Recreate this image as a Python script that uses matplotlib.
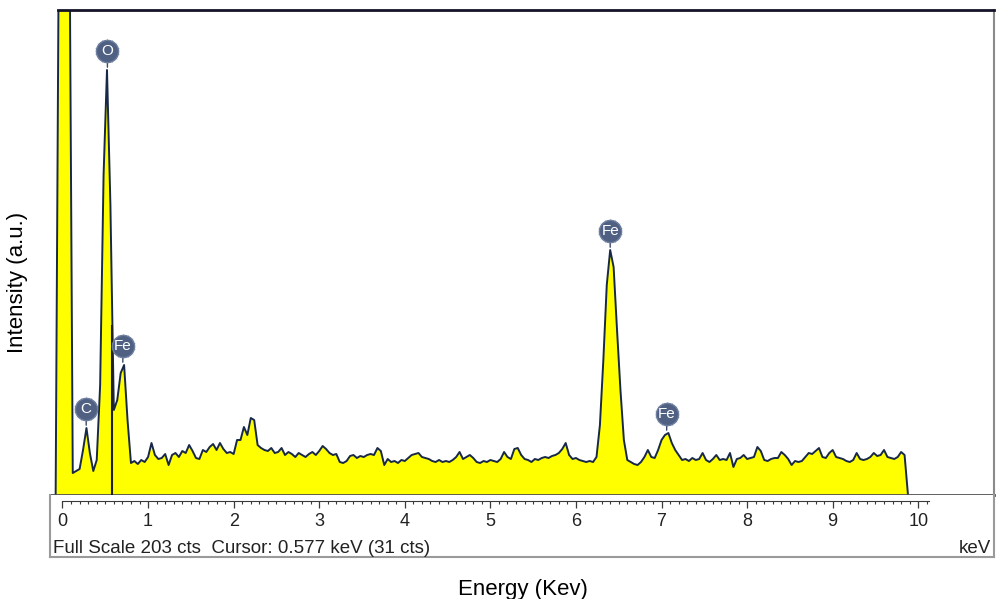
import numpy as np
import matplotlib
matplotlib.use("Agg")
import matplotlib.pyplot as plt
import matplotlib.transforms as mtransforms

# EDS spectrum, 0.04 keV channels from -0.08 keV
energies = np.round(np.arange(250) * 0.04 - 0.08, 2)
counts = [
    0, 600, 600, 600, 600, 22, 24, 26, 45, 67,
    42, 24, 35, 110, 320, 425, 290, 85, 95, 122,
    130, 75, 32, 34, 31, 35, 33, 38, 52, 40,
    36, 37, 41, 30, 40, 42, 38, 44, 42, 50,
    44, 37, 36, 45, 43, 48, 51, 45, 52, 46,
    42, 43, 41, 55, 55, 68, 60, 77, 75, 50,
    47, 45, 44, 47, 42, 43, 47, 40, 43, 41,
    38, 42, 40, 38, 41, 43, 40, 44, 49, 46,
    42, 40, 41, 33, 32, 34, 39, 40, 37, 39,
    38, 40, 41, 40, 47, 44, 30, 36, 33, 34,
    32, 35, 34, 37, 40, 41, 42, 38, 37, 36,
    34, 33, 35, 33, 34, 33, 35, 38, 43, 36,
    38, 40, 37, 33, 32, 34, 33, 35, 34, 33,
    36, 43, 38, 36, 46, 47, 40, 36, 35, 33,
    36, 35, 37, 38, 37, 39, 40, 42, 46, 52,
    40, 36, 37, 35, 34, 33, 34, 33, 38, 70,
    135, 210, 245, 228, 165, 105, 55, 35, 33, 31,
    30, 33, 38, 45, 38, 37, 45, 55, 60, 62,
    52, 45, 40, 35, 36, 34, 37, 35, 36, 42,
    35, 33, 36, 40, 35, 36, 35, 42, 28, 36,
    37, 40, 36, 37, 38, 48, 44, 35, 34, 36,
    37, 37, 43, 40, 36, 30, 34, 33, 34, 38,
    42, 41, 44, 47, 38, 37, 42, 45, 38, 37,
    36, 34, 33, 35, 42, 36, 35, 36, 38, 42,
    39, 40, 45, 38, 37, 36, 38, 43, 40, 0,
]
counts = np.array(counts)

peak_names = ["C", "O", "Fe", "Fe", "Fe"]
peak_kev = [0.277, 0.525, 0.705, 6.40, 7.06]
tick_kev = list(range(11))
full_scale = 203
cursor_kev = 0.577
cursor_cts = 31

plt.rcParams["font.family"] = ["Liberation Sans", "DejaVu Sans"]

W, H = 997, 599
fig = plt.figure(figsize=(W / 100, H / 100), dpi=100)

def px_box(x0, y0, x1, y1):
    return [x0 / W, 1 - y1 / H, (x1 - x0) / W, (y1 - y0) / H]

xmin, xmax = -0.146, 10.885

# spectrum panel
ax = fig.add_axes(px_box(50, 10, 994, 495))
ax.fill_between(energies, counts, 0, color="#ffff00", lw=0, zorder=1)
ax.plot(energies, counts, color="#172848", lw=1.4, zorder=2)
ax.vlines(cursor_kev, 0, 170, color="#202020", lw=1.5, zorder=3)
ax.set_xlim(xmin, xmax)
ax.set_ylim(0, 485)
ax.set_xticks([])
ax.set_yticks([])
ax.spines["left"].set_visible(False)
ax.spines["top"].set_color("#141428")
ax.spines["top"].set_linewidth(2)
ax.spines["top"].set_bounds(-0.05, xmax)
ax.spines["right"].set_color("#8a8a8a")
ax.spines["right"].set_linewidth(1.5)
ax.spines["bottom"].set_color("#505050")
ax.spines["bottom"].set_linewidth(2)

# element markers
lab_tr = mtransforms.offset_copy(ax.transData, fig=fig, y=13.7, units="points")
for name, e in zip(peak_names, peak_kev):
    near = np.abs(energies - e) <= 0.045
    top = counts[near].max()
    ax.annotate("", xy=(e, top), xytext=(0, 8), textcoords="offset points",
                arrowprops=dict(arrowstyle="-", color="#3a4a68", lw=1), zorder=4)
    ax.plot(e, top, marker=(14, 1, 0), ms=18.5, color="#56678a", mew=0,
            transform=lab_tr, zorder=5, clip_on=False)
    ax.plot(e, top, marker="o", ms=16, color="#4f6083", mec="#6d7ea0", mew=1,
            transform=lab_tr, zorder=6, clip_on=False)
    ax.text(e, top, name, transform=lab_tr, color="white", fontsize=11,
            ha="center", va="center", zorder=7)

# energy ruler strip
ax2 = fig.add_axes(px_box(50, 495, 994, 557))
ax2.set_xlim(xmin, xmax)
ax2.set_ylim(0, 1)
ax2.set_yticks([])
for s in ["left", "right", "bottom"]:
    ax2.spines[s].set_color("#9a9a9a")
    ax2.spines[s].set_linewidth(1.5)
ax2.spines["top"].set_position(("axes", 0.908))
ax2.spines["top"].set_bounds(0, 10.12)
ax2.spines["top"].set_color("#3a3a3a")
ax2.xaxis.set_ticks_position("top")
ax2.set_xticks(tick_kev)
ax2.set_xticks(np.round(np.arange(0, 10.15, 0.1), 1), minor=True)
ax2.tick_params(axis="x", which="major", direction="in", length=5.3, width=0.9,
                color="#3a3a3a", labeltop=False, labelbottom=False)
ax2.tick_params(axis="x", which="minor", direction="in", length=2.4, width=0.8,
                color="#3a3a3a")
tr2 = mtransforms.blended_transform_factory(ax2.transData, ax2.transAxes)
for v in tick_kev:
    ax2.text(v, 0.58, str(v), transform=tr2, ha="center", va="center",
             fontsize=13, color="#222222")
ax2.text(0.003, 0.14, f"Full Scale {full_scale} cts  Cursor: {cursor_kev} keV ({cursor_cts} cts)",
         transform=ax2.transAxes, ha="left", va="center", fontsize=13.5, color="#222222")
ax2.text(0.997, 0.14, "keV", transform=ax2.transAxes, ha="right", va="center",
         fontsize=13.5, color="#222222")

fig.text(523 / W, 1 - 589 / H, "Energy (Kev)", ha="center", va="center", fontsize=16)
fig.text(18 / W, 1 - 282 / H, "Intensity (a.u.)", ha="center", va="center",
         rotation=90, fontsize=16)

fig.savefig("out.png", dpi=100)
